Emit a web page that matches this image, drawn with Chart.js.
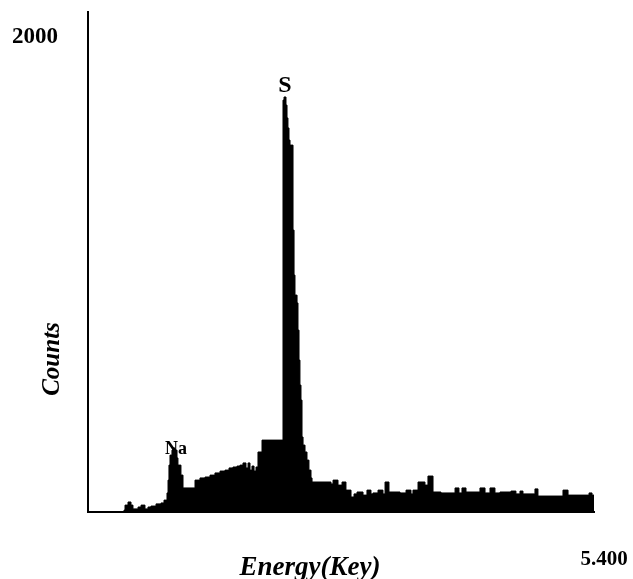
<!DOCTYPE html>
<html>
<head>
<meta charset="utf-8">
<script src="https://cdn.jsdelivr.net/npm/chart.js@4/dist/chart.umd.min.js"></script>
<style>
  html, body { margin: 0; padding: 0; background: #fff; }
  #wrap { width: 633px; height: 579px; }
</style>
</head>
<body>
<div id="wrap"><canvas id="c" width="633" height="579"></canvas></div>
<script>
// Energy (keV), step start of each segment
const energy = [0.000,0.384,0.395,0.427,0.459,0.480,0.534,0.566,0.608,0.640,0.672,0.726,0.779,0.811,
  0.843,0.854,0.864,0.875,0.896,0.907,0.928,0.950,0.960,0.992,1.014,
  1.142,1.195,1.249,1.302,1.355,1.409,1.462,1.505,1.547,1.590,1.622,1.654,1.686,1.708,1.729,1.750,1.772,1.793,1.814,1.857,
  2.081,2.092,2.113,2.124,2.134,2.145,2.156,2.188,2.199,2.209,2.231,2.241,2.252,2.262,2.273,2.284,2.295,2.316,2.337,2.358,
  2.380,2.391,2.593,2.615,2.668,2.711,2.753,2.807,2.839,2.871,2.935,2.977,3.020,3.041,3.095,3.148,3.170,3.212,3.330,3.394,
  3.447,3.468,3.522,3.596,3.628,3.682,3.767,3.917,3.959,3.991,4.034,4.183,4.237,4.290,4.343,4.397,4.514,4.567,4.610,4.642,
  4.770,4.802,5.069,5.123,5.347,5.379,5.400];
// Counts for each segment
const counts = [0,8,29,42,29,13,21,29,13,21,25,34,38,50,
  80,134,197,239,260,269,260,227,197,155,101,
  134,143,147,155,164,172,176,185,189,193,197,206,185,206,176,193,172,189,252,302,
  1730,1743,1709,1655,1613,1562,1541,1184,995,911,878,764,638,533,470,315,281,252,218,176,
  143,126,118,134,113,126,92,63,76,84,71,92,76,80,92,76,126,84,80,92,
  76,92,126,113,151,84,80,101,80,101,84,101,80,101,80,84,88,76,88,76,
  97,67,92,71,80,71,71];
// Axis tick labels
const yTickValues = [2000];
const yTickLabels = ["2000"];
const xTickValues = [5.4];
const xTickLabels = ["5.400"];
// Peak annotations
const peakNames = ["S", "Na"];
const peakEnergy = [2.102, 0.907];
const peakCounts = [1743, 269];
const xTitle = "Energy(Key)";
const yTitle = "Counts";

const SERIF = '"Liberation Serif", "Times New Roman", serif';

const textPlugin = {
  id: 'texts',
  afterDatasetsDraw(chart) {
    const ctx = chart.ctx;
    const xs = chart.scales.x, ys = chart.scales.y;
    const ca = chart.chartArea;
    ctx.save();
    ctx.fillStyle = '#000';
    // y tick labels
    ctx.font = 'bold 23px ' + SERIF;
    ctx.textAlign = 'right';
    ctx.textBaseline = 'middle';
    yTickValues.forEach((v, i) => {
      ctx.fillText(yTickLabels[i], ca.left - 30, ys.getPixelForValue(v) + 1);
    });
    // x tick labels
    ctx.font = 'bold 21px ' + SERIF;
    ctx.textAlign = 'center';
    xTickValues.forEach((v, i) => {
      ctx.fillText(xTickLabels[i], xs.getPixelForValue(v) + 10, ca.bottom + 48);
    });
    // x title
    ctx.font = 'italic bold 27px ' + SERIF;
    ctx.textBaseline = 'alphabetic';
    ctx.fillText(xTitle, 310, 575);
    // y title
    ctx.save();
    ctx.translate(53, 359);
    ctx.rotate(-Math.PI / 2);
    ctx.textBaseline = 'middle';
    ctx.font = 'italic bold 25px ' + SERIF;
    ctx.fillText(yTitle, 0, 0);
    ctx.restore();
    // peak labels
    ctx.textBaseline = 'middle';
    peakNames.forEach((n, i) => {
      ctx.font = (i === 0 ? 'bold 24px ' : 'bold 18px ') + SERIF;
      const px = xs.getPixelForValue(peakEnergy[i]);
      const py = ys.getPixelForValue(peakCounts[i]);
      if (i === 0) ctx.fillText(n, px, py - 11);
      else ctx.fillText(n, px + 3, py + 1);
    });
    ctx.restore();
  }
};

new Chart(document.getElementById('c'), {
  type: 'line',
  data: {
    datasets: [{
      data: energy.map((e, i) => ({ x: e, y: counts[i] })),
      stepped: true,
      borderColor: '#000',
      backgroundColor: '#000',
      borderWidth: 1,
      pointRadius: 0,
      fill: 'origin'
    }]
  },
  plugins: [textPlugin],
  options: {
    responsive: false,
    animation: false,
    devicePixelRatio: 1,
    layout: { padding: { left: 88, right: 39, top: 12, bottom: 67 } },
    plugins: { legend: { display: false }, tooltip: { enabled: false } },
    scales: {
      x: {
        type: 'linear', min: 0, max: 5.4,
        grid: { display: false, drawTicks: false },
        border: { display: true, color: '#000', width: 2 },
        ticks: { display: false }
      },
      y: {
        type: 'linear', min: 0, max: 2100,
        grid: { display: false, drawTicks: false },
        border: { display: true, color: '#000', width: 2 },
        ticks: { display: false }
      }
    }
  }
});
</script>
</body>
</html>
